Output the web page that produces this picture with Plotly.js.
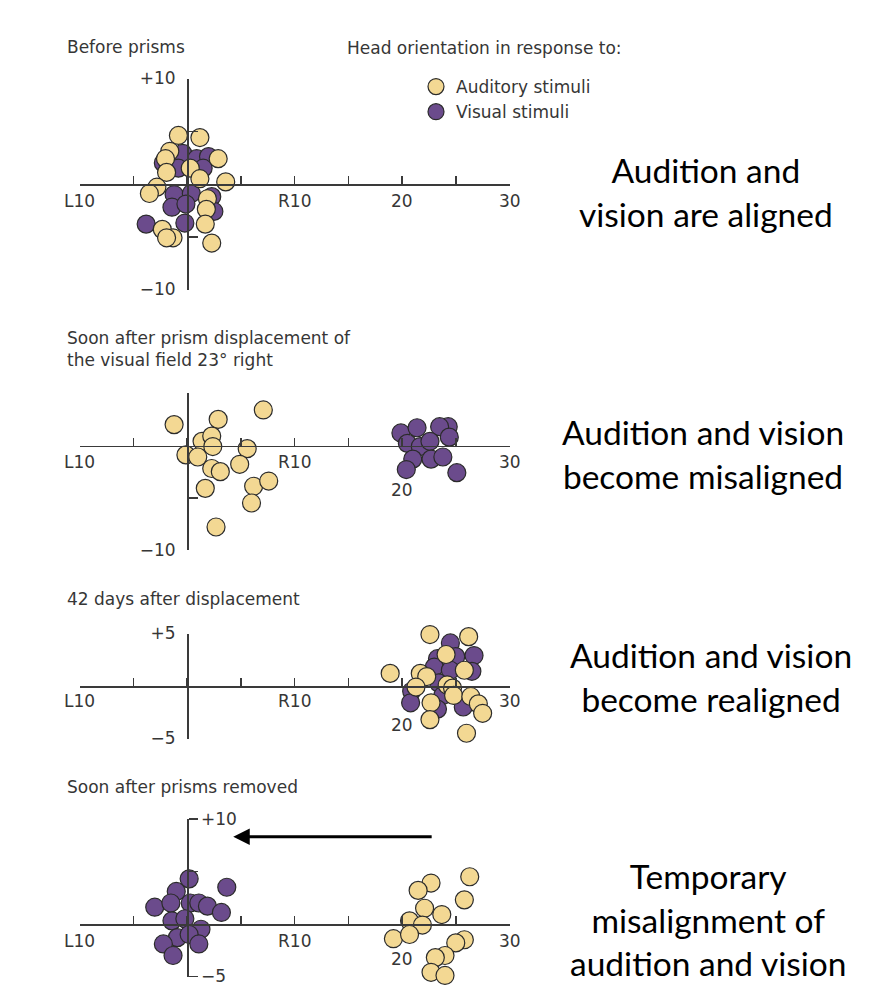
<!DOCTYPE html>
<html><head><meta charset="utf-8">
<script src="https://cdn.plot.ly/plotly-3.0.1.min.js"></script>
<style>html,body{margin:0;padding:0;background:#fff}</style>
</head><body><div id="chart" style="width:872px;height:1000px"></div>
<script>
// ---------- data ----------
const panelTitles = ["Before prisms", "Soon after prism displacement of<br>the visual field 23° right", "42 days after displacement", "Soon after prisms removed"];
const seriesNames = ["Auditory stimuli", "Visual stimuli"];
const legendHeader = "Head orientation in response to:";
const captions = ["Audition and<br>vision are aligned", "Audition and vision<br>become misaligned", "Audition and vision<br>become realigned", "Temporary<br>misalignment of<br>audition and vision"];

const xRange = [-10, 30];
const xTickLabelVals = [-10, 10, 20, 30];
const xTickLabelText = ["L10", "R10", "20", "30"];

const yRanges = [[-10, 10], [-10, 5], [-5, 5], [-5, 10]];
const yTickVals = [[-10, -5, 5, 10], [-10, -5, 5], [-5, 5], [-5, 5, 10]];
const yTickText = [["\u221210", "", "", "+10"], ["\u221210", "", ""], ["\u22125", "+5"], ["\u22125", "", "+10"]];

// Panel 1: before prisms
const p1AudX = [-0.8, 1.2, -1.6, -2.0, 2.9, 0.3, -1.9, 1.2, 3.6, -2.8, -3.5, 1.9, 1.8, 1.7, -2.3, -1.3, -1.9, 2.3];
const p1AudY = [4.6, 4.4, 3.1, 2.4, 2.4, 1.5, 1.1, 0.5, 0.2, -0.3, -0.9, -1.4, -2.4, -3.8, -4.3, -5.1, -5.1, -5.6];
const p1VisX = [-0.4, -2.2, 0.9, 2.0, -0.8, 1.5, -1.2, 0.4, 2.3, -1.4, -0.1, 2.5, -3.8, -0.2];
const p1VisY = [2.9, 2.0, 2.4, 2.6, 1.5, 1.5, -1.0, -0.9, -1.2, -2.2, -1.9, -2.6, -3.8, -3.7];

// Panel 2: soon after prism displacement
const p2AudX = [-1.2, 2.9, 7.1, 1.4, 2.3, 2.4, -0.1, 1.0, 5.6, 4.9, 2.3, 3.1, 1.7, 6.2, 7.6, 6.0, 2.7];
const p2AudY = [2.0, 2.5, 3.4, 0.4, 0.9, -0.1, -0.9, -1.1, -0.3, -1.8, -2.2, -2.5, -4.1, -3.9, -3.4, -5.5, -7.8];
const p2VisX = [19.9, 21.4, 24.3, 23.5, 20.5, 21.7, 22.6, 24.4, 21.0, 22.7, 23.8, 20.4, 25.1];
const p2VisY = [1.2, 1.7, 1.8, 1.8, 0.2, -0.1, 0.4, 0.8, -1.3, -1.3, -1.1, -2.3, -2.6];

// Panel 3: 42 days after displacement
const p3AudX = [22.6, 26.2, 24.1, 25.8, 18.9, 21.7, 22.3, 21.3, 24.2, 24.7, 24.8, 26.4, 27.1, 27.5, 22.7, 22.6, 26.0];
const p3AudY = [4.9, 4.7, 3.0, 1.5, 1.2, 1.2, 0.9, -0.1, 0.1, -0.2, -0.9, -1.0, -1.7, -2.6, -1.6, -3.2, -4.5];
const p3VisX = [24.5, 23.3, 25.0, 26.7, 23.0, 24.5, 26.5, 23.4, 20.9, 23.8, 20.8, 23.3, 25.7];
const p3VisY = [4.1, 2.6, 2.8, 2.9, 1.8, 1.5, 1.4, 0.3, -0.5, -0.9, -1.6, -2.2, -2.0];

// Panel 4: soon after prisms removed
const p4AudX = [26.3, 22.7, 21.5, 25.8, 22.1, 23.7, 20.7, 21.9, 19.2, 20.7, 25.8, 25.0, 24.0, 23.1, 22.7, 24.0];
const p4AudY = [4.5, 3.9, 3.2, 2.3, 1.5, 0.9, 0.3, -0.1, -1.4, -1.0, -1.5, -1.8, -3.0, -3.2, -4.6, -4.9];
const p4VisX = [0.2, 3.7, -1.0, -3.0, -1.5, 0.3, 1.1, 1.9, 3.2, -1.4, -0.2, 1.3, -0.9, 0.2, -2.2, 1.1, -1.3];
const p4VisY = [4.3, 3.5, 3.1, 1.6, 2.0, 2.0, 2.0, 1.7, 1.1, 0.3, 0.5, -0.5, -1.3, -1.0, -1.9, -1.9, -3.0];

const arrowTail = [22.9, 8.3];
const arrowHead = [4.3, 8.3];

// ---------- layout geometry (pixels) ----------
const W = 872, H = 1000;
const xPxLo = 79.5, xPxHi = 509.5;              // pixel of x=-10 and x=30
const panelGeom = [
  {zero: 184, scale: 10.55},
  {zero: 445.5, scale: 10.45},
  {zero: 686, scale: 10.5},
  {zero: 924, scale: 10.5}
];
const labelDrop = [[17, 17, 17, 17], [16, 16, 44, 16], [15, 15, 39, 15], [17, 17, 35, 17]];
const titleY = [47, 348.5, 599, 787];
const captionPos = [[706, 191.5], [703, 454], [711, 676.5], [708, 919]];

const AUD_COLOR = "#f3d893", VIS_COLOR = "#6b4b8c", EDGE = "#2b2b2b";
const TXT = "#363636", AX = "#3a3a3a";
const SMALL = {family: "DejaVu Sans", size: 17, color: TXT};

const panels = [
  {aud: [p1AudX, p1AudY], vis: [p1VisX, p1VisY]},
  {aud: [p2AudX, p2AudY], vis: [p2VisX, p2VisY]},
  {aud: [p3AudX, p3AudY], vis: [p3VisX, p3VisY]},
  {aud: [p4AudX, p4AudY], vis: [p4VisX, p4VisY]}
];

const xDomain = [xPxLo / W, xPxHi / W];
const x0Px = xPxLo + (0 - xRange[0]) / (xRange[1] - xRange[0]) * (xPxHi - xPxLo);

const traces = [];
const layout = {
  width: W, height: H,
  margin: {l: 0, r: 0, t: 0, b: 0},
  paper_bgcolor: "#fff", plot_bgcolor: "rgba(0,0,0,0)",
  showlegend: true,
  legend: {x: 416 / W, y: 1 - 69 / H, xanchor: "left", yanchor: "top",
           font: SMALL, bgcolor: "rgba(0,0,0,0)", tracegroupgap: 0},
  annotations: [],
  shapes: []
};

panels.forEach((p, i) => {
  const n = i === 0 ? "" : String(i + 1);
  const g = panelGeom[i];
  const r = yRanges[i];
  const topPx = g.zero - r[1] * g.scale;
  const botPx = g.zero - r[0] * g.scale;
  const yDomain = [1 - botPx / H, 1 - topPx / H];

  layout["xaxis" + n] = {
    domain: xDomain, range: xRange, anchor: "free", position: 1 - g.zero / H,
    showline: true, linecolor: AX, linewidth: 1.6,
    ticks: "inside", ticklen: 8, tickwidth: 1.5, tickcolor: AX,
    tickmode: "linear", tick0: 0, dtick: 5,
    showticklabels: false, showgrid: false, zeroline: false, fixedrange: true
  };
  const right = i === 3;
  layout["yaxis" + n] = {
    domain: yDomain, range: r, anchor: "free", position: x0Px / W,
    side: right ? "right" : "left",
    showline: true, linecolor: AX, linewidth: 1.6,
    ticks: right ? "outside" : "inside", ticklen: 9, tickwidth: 1.5, tickcolor: AX,
    ticklabelstandoff: right ? 0 : 8,
    tickmode: "array", tickvals: yTickVals[i], ticktext: yTickText[i],
    tickfont: SMALL, showgrid: false, zeroline: false, fixedrange: true
  };

  traces.push({
    type: "scatter", mode: "markers", name: seriesNames[1],
    x: p.vis[0], y: p.vis[1], xaxis: "x" + n, yaxis: "y" + n,
    cliponaxis: false, showlegend: i === 0, legendrank: 2,
    marker: {size: 18, color: VIS_COLOR, line: {color: EDGE, width: 1.2}},
    hoverinfo: "skip"
  });
  traces.push({
    type: "scatter", mode: "markers", name: seriesNames[0],
    x: p.aud[0], y: p.aud[1], xaxis: "x" + n, yaxis: "y" + n,
    cliponaxis: false, showlegend: i === 0, legendrank: 1,
    marker: {size: 18, color: AUD_COLOR, line: {color: EDGE, width: 1.2}},
    hoverinfo: "skip"
  });

  xTickLabelVals.forEach((v, k) => {
    layout.annotations.push({
      xref: "x" + n, yref: "y" + n, x: v, y: 0, yshift: -labelDrop[i][k],
      text: xTickLabelText[k], showarrow: false, font: SMALL,
      xanchor: "center", yanchor: "middle"
    });
  });

  layout.annotations.push({
    xref: "paper", yref: "paper", x: 65 / W, y: 1 - titleY[i] / H,
    xanchor: "left", yanchor: "middle", align: "left",
    text: panelTitles[i], showarrow: false, font: SMALL
  });

  layout.annotations.push({
    xref: "paper", yref: "paper", x: captionPos[i][0] / W, y: 1 - captionPos[i][1] / H,
    xanchor: "center", yanchor: "middle", align: "center",
    text: captions[i], showarrow: false,
    font: {family: "Lato", size: 33.5, color: "#000"}
  });
});

layout.annotations.push({
  xref: "paper", yref: "paper", x: 345 / W, y: 1 - 48 / H,
  xanchor: "left", yanchor: "middle", text: legendHeader, showarrow: false, font: SMALL
});

layout.annotations.push({
  xref: "x4", yref: "y4", axref: "x4", ayref: "y4",
  x: arrowHead[0], y: arrowHead[1], ax: arrowTail[0], ay: arrowTail[1],
  text: "", showarrow: true, arrowhead: 2, arrowsize: 1.1, arrowwidth: 3, arrowcolor: "#000"
});

Plotly.newPlot("chart", traces, layout, {displayModeBar: false, staticPlot: true});
</script>
</body></html>
